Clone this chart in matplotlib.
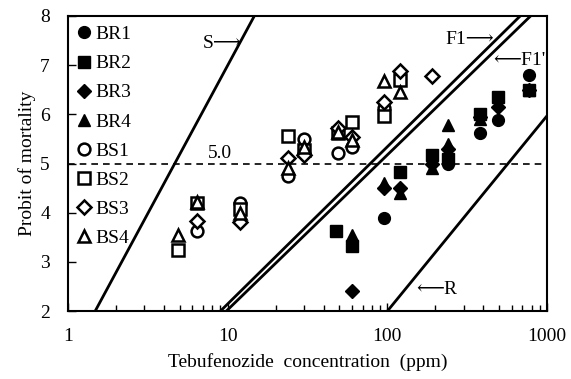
import matplotlib
matplotlib.use("Agg")
import matplotlib.pyplot as plt
from matplotlib.ticker import LogLocator, NullFormatter, FixedLocator

plt.rcParams["font.family"] = ["Liberation Serif", "DejaVu Serif"]

# BR strains (filled markers)
br1_x = [96, 240, 380, 490, 770]
br1_y = [3.9, 5.0, 5.62, 5.88, 6.8]
br2_x = [48, 60, 120, 190, 240, 380, 490, 770]
br2_y = [3.62, 3.32, 4.82, 5.18, 5.1, 6.0, 6.35, 6.5]
br3_x = [60, 96, 120, 190, 240, 380, 490, 770]
br3_y = [2.4, 4.5, 4.5, 5.0, 5.3, 5.95, 6.15, 6.5]
br4_x = [60, 96, 120, 190, 240, 240, 380, 770]
br4_y = [3.55, 4.6, 4.4, 4.9, 5.78, 5.4, 5.9, 6.5]

# BS strains (open markers)
bs1_x = [6.4, 12, 24, 30, 49, 60, 96]
bs1_y = [3.63, 4.2, 4.74, 5.5, 5.21, 5.33, 6.12]
bs2_x = [4.9, 6.4, 12, 24, 30, 49, 60, 96, 120]
bs2_y = [3.24, 4.2, 4.07, 5.56, 5.27, 5.62, 5.84, 5.97, 6.7]
bs3_x = [6.4, 12, 24, 30, 49, 60, 96, 120, 190]
bs3_y = [3.83, 3.81, 5.11, 5.17, 5.72, 5.54, 6.25, 6.88, 6.78]
bs4_x = [4.9, 6.4, 12, 24, 30, 49, 60, 96, 120]
bs4_y = [3.54, 4.22, 4.0, 4.9, 5.33, 5.65, 5.48, 6.67, 6.46]

# regression lines (endpoints)
s_line = ([1.48, 14.7], [2, 8])
f1_line = ([9.0, 680], [2, 8])
f1p_line = ([9.8, 790], [2, 8])
r_line = ([100, 1000], [2, 5.97])

fig = plt.figure(figsize=(5.71, 3.79), dpi=100)
ax = fig.add_axes([0.119, 0.179, 0.839, 0.779])

ms = 8.5
mew = 1.8
ax.plot(br1_x, br1_y, "o", color="black", ms=ms, label="BR1", ls="none")
ax.plot(br2_x, br2_y, "s", color="black", ms=ms, label="BR2", ls="none")
ax.plot(br3_x, br3_y, "D", color="black", ms=ms - 1, label="BR3", ls="none")
ax.plot(br4_x, br4_y, "^", color="black", ms=ms, label="BR4", ls="none")
ax.plot(bs1_x, bs1_y, "o", mfc="white", mec="black", mew=mew, ms=ms, label="BS1", ls="none")
ax.plot(bs2_x, bs2_y, "s", mfc="white", mec="black", mew=mew, ms=ms, label="BS2", ls="none")
ax.plot(bs3_x, bs3_y, "D", mfc="white", mec="black", mew=mew, ms=ms - 1, label="BS3", ls="none")
ax.plot(bs4_x, bs4_y, "^", mfc="white", mec="black", mew=mew, ms=ms, label="BS4", ls="none")

for xs, ys in (s_line, f1_line, f1p_line, r_line):
    ax.plot(xs, ys, "-", color="black", lw=2)

ax.axhline(5.0, color="black", ls=(0, (4, 3)), lw=1.2)

fs = 14
ax.text(7.5, 5.12, "5.0", fontsize=fs)
ax.text(7.0, 7.35, "S\u27f6", fontsize=fs)
ax.text(232, 7.42, "F1\u27f6", fontsize=fs)
ax.text(975, 7.0, "\u27f5F1'", fontsize=fs, ha="right")
ax.text(152, 2.35, "\u27f5R", fontsize=fs)

ax.set_xscale("log")
ax.set_xlim(1, 1000)
ax.set_ylim(2, 8)
ax.xaxis.set_major_locator(FixedLocator([1, 10, 100, 1000]))
ax.xaxis.set_minor_locator(LogLocator(base=10, subs=range(2, 10)))
ax.xaxis.set_minor_formatter(NullFormatter())
ax.set_xticklabels(["1", "10", "100", "1000"])
ax.tick_params(axis="both", which="major", direction="in", length=6, width=1,
               labelsize=fs, top=False, right=False)
ax.tick_params(axis="x", which="minor", direction="in", length=4, width=1, top=False)
ax.tick_params(axis="x", pad=12)
ax.tick_params(axis="y", pad=13)
for sp in ax.spines.values():
    sp.set_linewidth(1.5)

ax.set_xlabel("Tebufenozide  concentration  (ppm)", fontsize=fs, labelpad=6)
ax.set_ylabel("Probit of mortality", fontsize=fs, va="center")
ax.yaxis.set_label_coords(-0.085, 0.5)

ax.legend(loc="upper left", frameon=False, fontsize=fs, handlelength=0.6,
          handletextpad=0.3, labelspacing=0.59, borderaxespad=0.3, borderpad=0.2)

fig.savefig("out.png", dpi=100)
